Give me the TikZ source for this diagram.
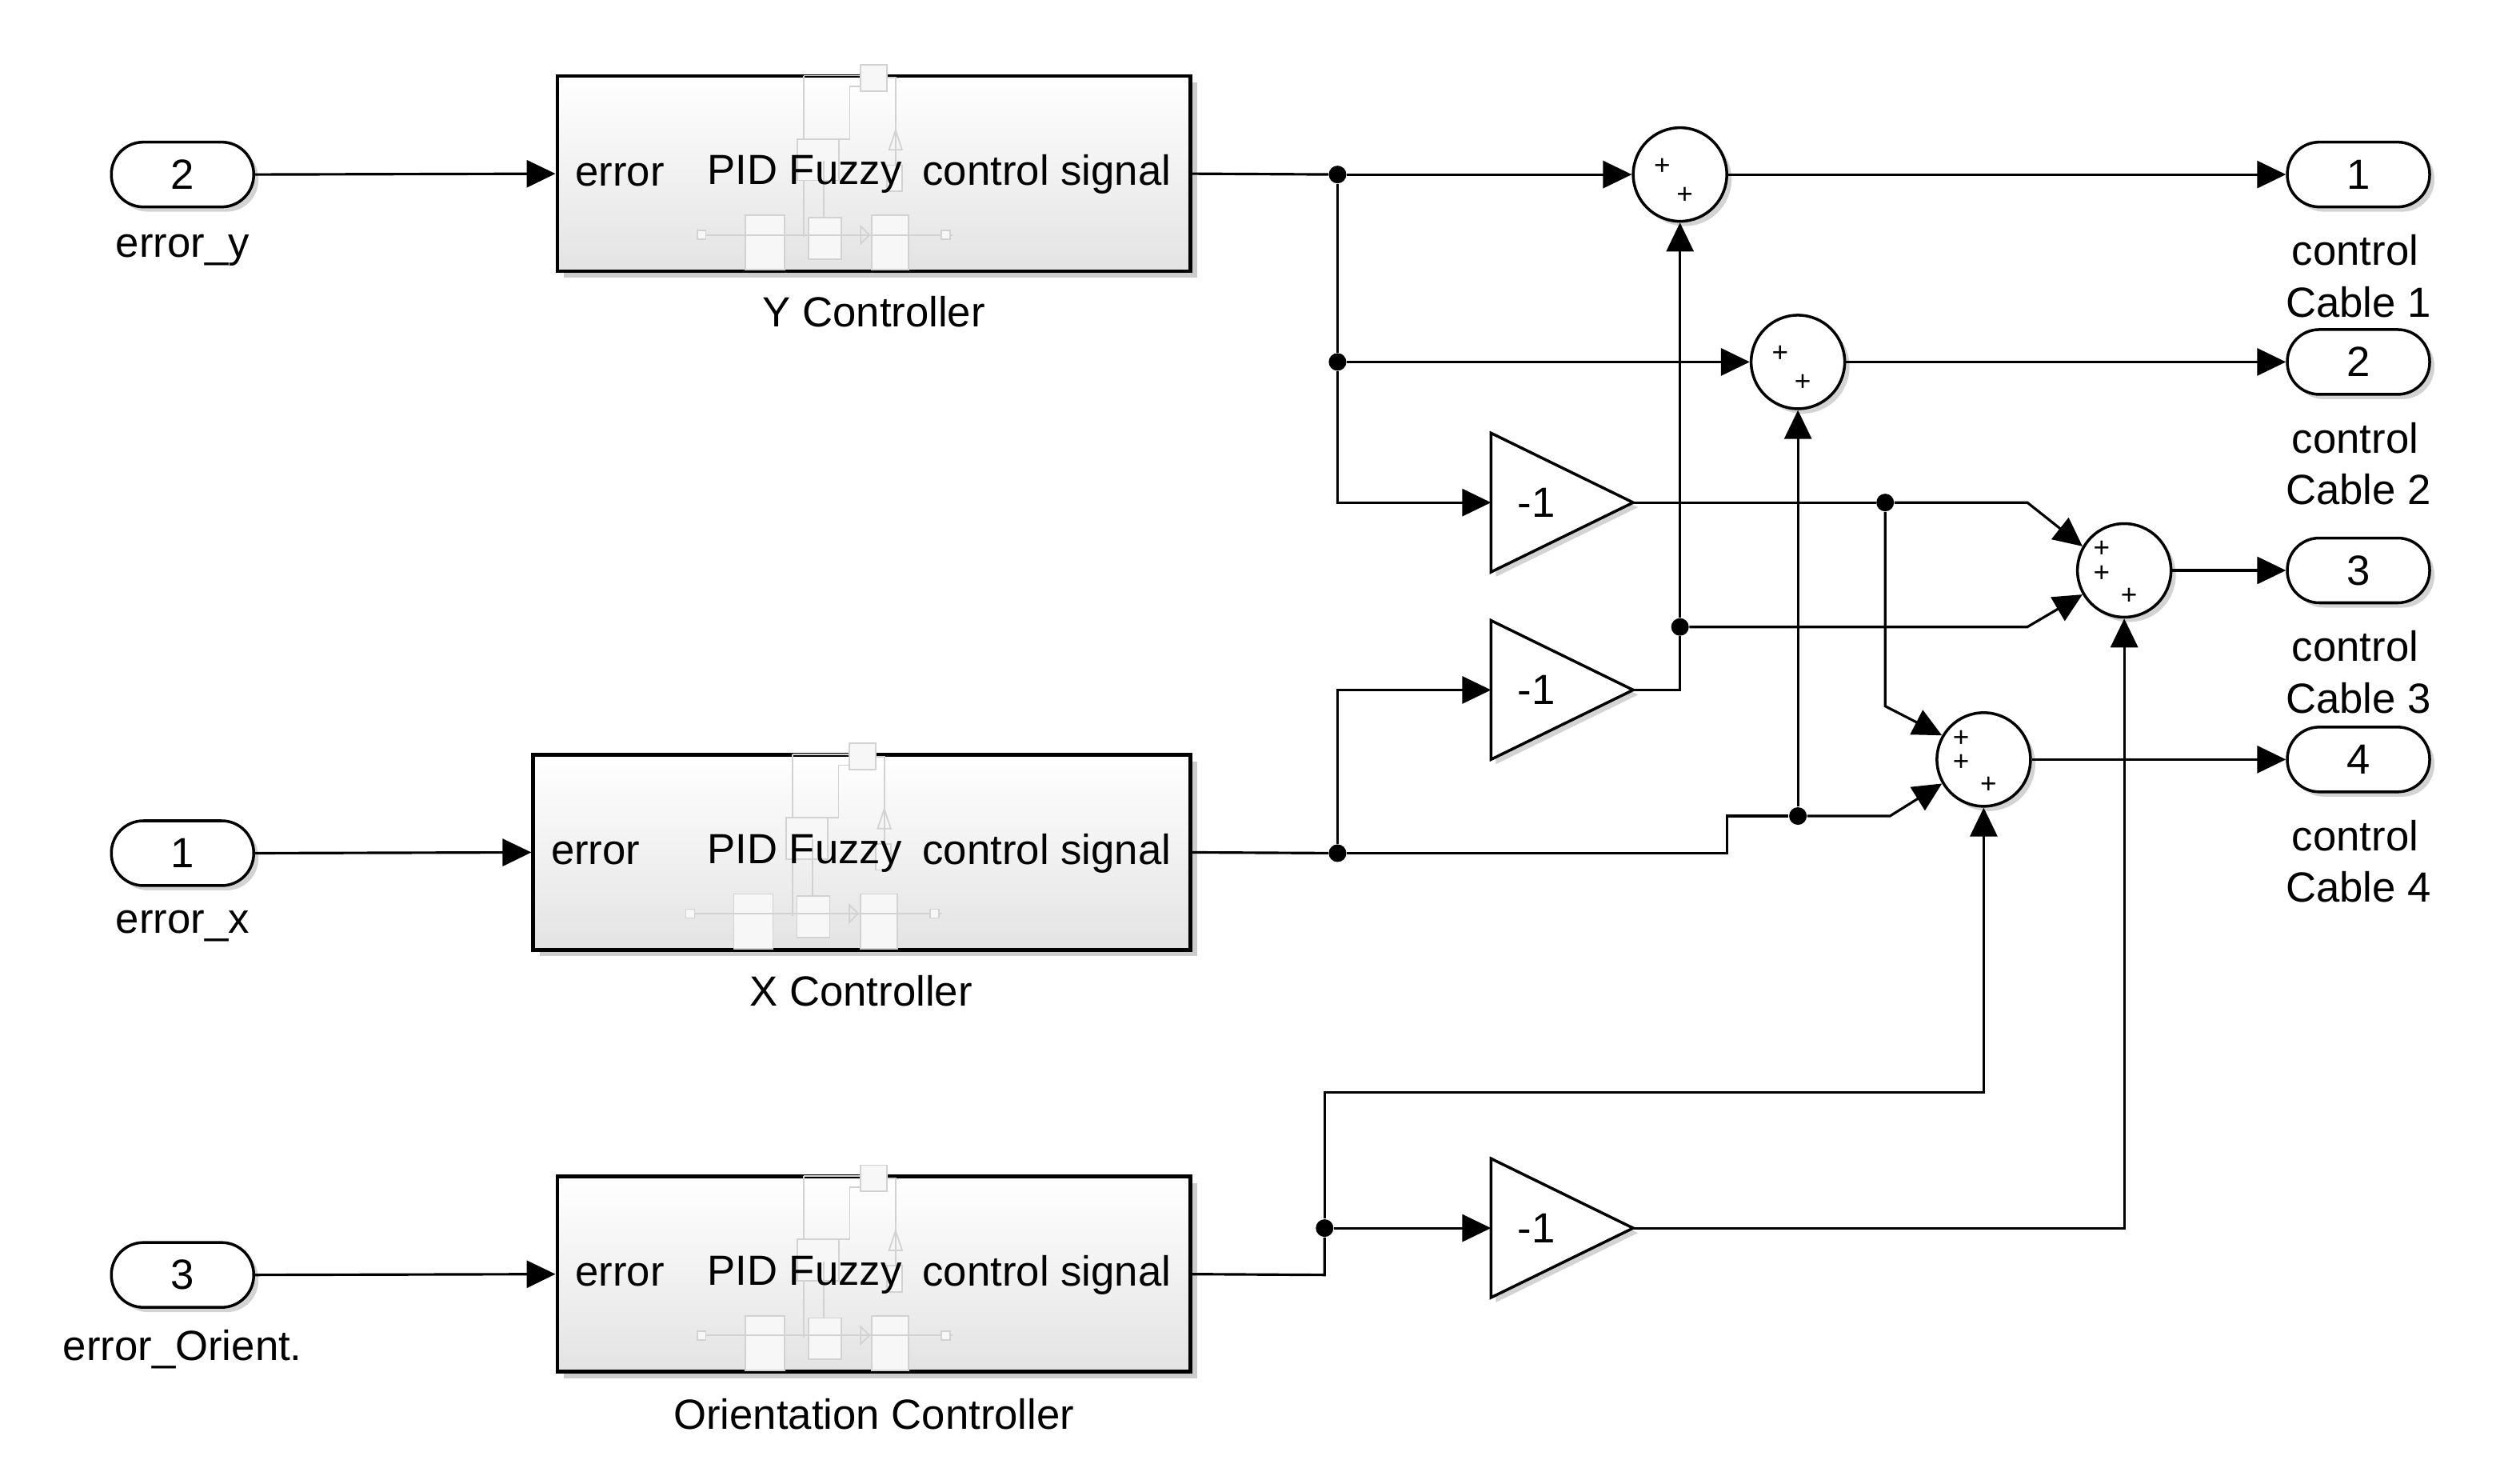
\documentclass[tikz,border=0pt]{standalone}
\usepackage{fontspec}
\setmainfont{Liberation Sans}
\usetikzlibrary{arrows.meta,shadows,calc}
\begin{document}
\begin{tikzpicture}[x=0.0202cm,y=-0.0202cm,
  font=\fontsize{15}{17}\selectfont,
  wire/.style={line width=0.9pt},
  arr/.style={wire,-{Triangle[length=0.36cm,width=0.34cm]}},
  dot/.style={circle,fill=black,inner sep=0pt,minimum size=0.22cm},
  port/.style={draw,line width=1pt,rounded corners=0.4cm,minimum width=1.78cm,minimum height=0.81cm,fill=white,
    drop shadow={opacity=0.35,shadow xshift=0.06cm,shadow yshift=-0.06cm}},
  sub/.style={draw,line width=1.3pt,top color=white,bottom color=gray!22,minimum height=2.44cm,
    drop shadow={opacity=0.4,shadow xshift=0.08cm,shadow yshift=-0.08cm}},
  sum/.style={draw,circle,line width=1pt,minimum size=1.17cm,inner sep=0pt,fill=white,
    drop shadow={opacity=0.35,shadow xshift=0.06cm,shadow yshift=-0.06cm}},
  gainshape/.style={draw,line width=1pt,fill=white,drop shadow={opacity=0.35,shadow xshift=0.06cm,shadow yshift=-0.06cm}},
  icon/.style={draw=gray!35,line width=0.5pt,fill=gray!6},
  sg/.style={font=\fontsize{10}{10}\selectfont,inner sep=0pt}
]
\useasboundingbox (0,0) rectangle (1560,903.5);

% inports
\node[port] (in2) at (113,108) {2};
\node at (113,155) {error\_y};
\node[port] (in1) at (113,528) {1};
\node at (113,573) {error\_x};
\node[port] (in3) at (113,789) {3};
\node at (113,835) {error\_Orient.};

% subsystem icon
\newcommand{\myicon}[2]{%
 \begin{scope}[shift={(#1,#2)},scale=1.35]
  \draw[icon,fill=none] (-18,-49) -- (-18,25);
  \draw[icon,fill=none] (-18,-49) -- (8,-49);
  \draw[icon] (8,-54) rectangle (20,-42);
  \draw[icon,fill=none] (20,-48) -- (24,-48) -- (24,-5);
  \draw[icon,fill=none] (24,-24) -- (27,-15) -- (21,-15) -- cycle;
  \draw[icon] (-21,-20) rectangle (-2,-1);
  \draw[icon,fill=none] (-2,-20) -- (3,-20) -- (3,-44) -- (8,-44);
  \draw[icon,fill=none] (-9,-10) -- (-9,30);
  \draw[icon] (-45,15) rectangle (-27,40);
  \draw[icon] (-16,16) rectangle (-1,35);
  \draw[icon] (13,15) rectangle (30,40);
  \draw[icon,fill=none] (-65,24) -- (50,24);
  \draw[icon] (-67,22) rectangle (-63,26);
  \draw[icon] (45,22) rectangle (49,26);
  \draw[icon] (20,-8) rectangle (27,4);
  \draw[icon,fill=none] (8,20) -- (12,24) -- (8,28) -- cycle;
 \end{scope}}

\node[sub,minimum width=7.92cm] (yc) at (541,107.5) {};
\myicon{522}{113}
\node[anchor=west] at (350,108) {error};
\node at (498,108) {PID Fuzzy};
\node[anchor=east] at (731,108) {control signal};
\node at (541,193) {Y Controller};

\node[sub,minimum width=8.22cm] (xc) at (533.5,527.5) {};
\myicon{515}{533}
\node[anchor=west] at (335,528) {error};
\node at (498,528) {PID Fuzzy};
\node[anchor=east] at (731,528) {control signal};
\node at (533,613) {X Controller};

\node[sub,minimum width=7.92cm] (oc) at (541,788.5) {};
\myicon{522}{794}
\node[anchor=west] at (350,789) {error};
\node at (498,789) {PID Fuzzy};
\node[anchor=east] at (731,789) {control signal};
\node at (541,875) {Orientation Controller};

% gains
\newcommand{\mygain}[2]{%
  \draw[gainshape] (923,#2-43) -- (1011,#2) -- (923,#2+43) -- cycle;
  \coordinate (#1i) at (923,#2);
  \coordinate (#1o) at (1011,#2);
  \node at (951,#2) {-1};}
\mygain{g1}{311}
\mygain{g2}{427}
\mygain{g3}{760}

% sums
\node[sum] (s1) at (1040,108) {};
\node[sg] at (1029,103) {+}; \node[sg] at (1043,121) {+};
\node[sum] (s2) at (1113,224) {};
\node[sg] at (1102,219) {+}; \node[sg] at (1116,237) {+};
\node[sum] (s3) at (1315,353) {};
\node[sg] at (1301,340) {+}; \node[sg] at (1301,355) {+}; \node[sg] at (1318,369) {+};
\node[sum] (s4) at (1228,470) {};
\node[sg] at (1214,457) {+}; \node[sg] at (1214,472) {+}; \node[sg] at (1231,486) {+};

% outports
\foreach \k/\y in {1/108,2/224,3/353,4/470}{
  \node[port] (out\k) at (1460,\y) {\k};
  \node at (1458,\y+47) {control};
  \node at (1460,\y+79) {Cable \k};
}

% junctions
\node[dot] (j1) at (828,108) {};
\node[dot] (j2) at (828,224) {};
\node[dot] (j3) at (1167,311) {};
\node[dot] (j4) at (1040,388) {};
\node[dot] (j5) at (828,528) {};
\node[dot] (j6) at (1113,505) {};
\node[dot] (j7) at (820,760) {};

% wires
\draw[arr] (in2.east) -- (yc.west);
\draw[arr] (in1.east) -- (xc.west);
\draw[arr] (in3.east) -- (oc.west);

\draw[wire] (yc.east) -- (j1);
\draw[arr] (j1) -- (s1.west);
\draw[wire] (j1) -- (j2);
\draw[arr] (j2) -- (s2.west);
\draw[arr] (j2) |- (g1i);
\draw[arr] (s1.east) -- (out1.west);
\draw[arr] (s2.east) -- (out2.west);

\draw[wire] (g1o) -- (j3);
\draw[arr] (j3) -- (1255,311) -- (s3.150);
\draw[arr] (j3) -- (1167,437) -- (s4.150);

\draw[wire] (g2o) -- (1040,427) -- (j4);
\draw[arr] (j4) -- (s1.south);
\draw[arr] (j4) -- (1255,388) -- (s3.210);

\draw[wire] (xc.east) -- (j5);
\draw[arr] (j5) |- (g2i);
\draw[wire] (j5) -- (1069,528) -- (1069,505) -- (j6);
\draw[arr] (j6) -- (1170,505) -- (s4.210);
\draw[arr] (j6) -- (s2.south);

\draw[wire] (oc.east) -- (820,789) -- (j7);
\draw[arr] (j7) -- (g3i);
\draw[arr] (j7) -- (820,676) -- (1228,676) -- (s4.south);
\draw[arr] (g3o) -- (1315,760) -- (s3.south);

\draw[arr] (s3.east) -- (out3.west);
\draw[arr] (s4.east) -- (out4.west);
\end{tikzpicture}
\end{document}
